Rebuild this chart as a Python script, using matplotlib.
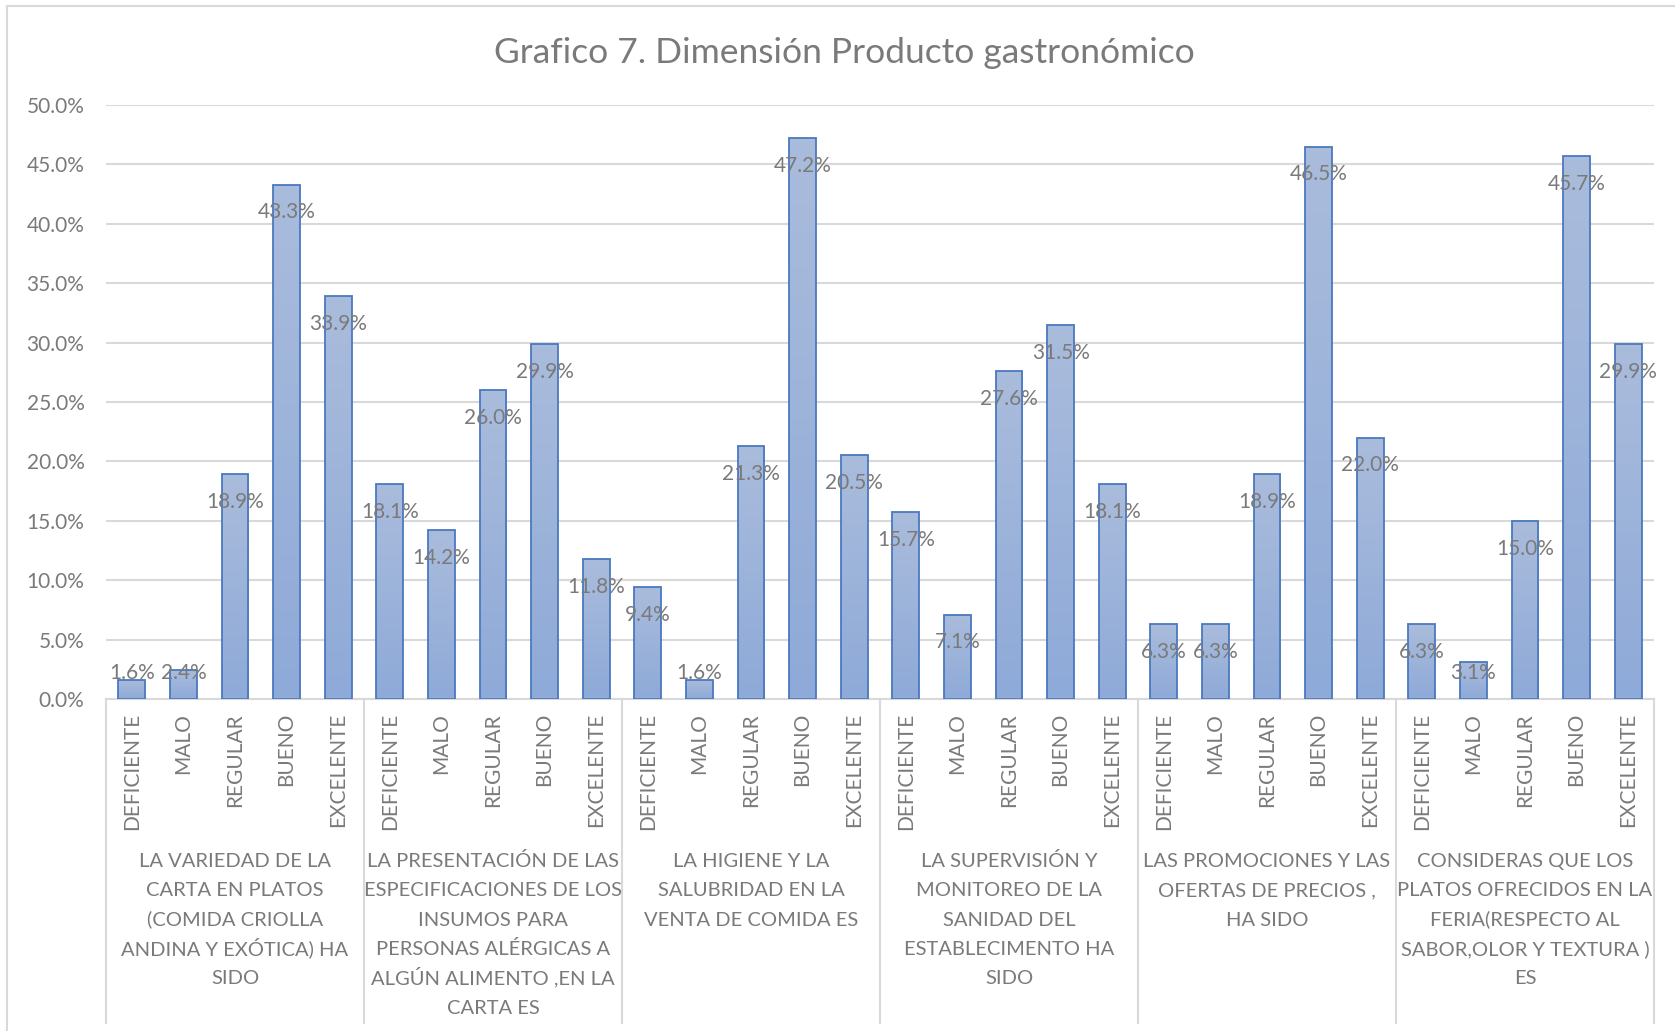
import matplotlib
matplotlib.use('Agg')
import matplotlib.pyplot as plt
import matplotlib as mpl
import numpy as np
from matplotlib.colors import LinearSegmentedColormap
from matplotlib.patches import Rectangle
from matplotlib.ticker import FuncFormatter

mpl.rcParams['font.family'] = ['Lato', 'DejaVu Sans']

# datos del grafico
titulo = 'Grafico 7. Dimensión Producto gastronómico'
niveles = ['DEFICIENTE', 'MALO', 'REGULAR', 'BUENO', 'EXCELENTE']
preguntas = [
    ['LA VARIEDAD DE LA', 'CARTA EN PLATOS', '(COMIDA CRIOLLA', 'ANDINA Y EXÓTICA) HA', 'SIDO'],
    ['LA PRESENTACIÓN DE LAS', 'ESPECIFICACIONES DE LOS', 'INSUMOS PARA', 'PERSONAS ALÉRGICAS A',
     'ALGÚN ALIMENTO ,EN LA', 'CARTA ES'],
    ['LA HIGIENE Y LA', 'SALUBRIDAD EN LA', 'VENTA DE COMIDA ES'],
    ['LA SUPERVISIÓN Y', 'MONITOREO DE LA', 'SANIDAD DEL', 'ESTABLECIMENTO HA', 'SIDO'],
    ['LAS PROMOCIONES Y LAS', 'OFERTAS DE PRECIOS ,', 'HA SIDO'],
    ['CONSIDERAS QUE LOS', 'PLATOS OFRECIDOS EN LA', 'FERIA(RESPECTO AL', 'SABOR,OLOR Y TEXTURA )', 'ES'],
]
variedad = [0.016, 0.024, 0.189, 0.433, 0.339]
presentacion = [0.181, 0.142, 0.260, 0.299, 0.118]
higiene = [0.094, 0.016, 0.213, 0.472, 0.205]
supervision = [0.157, 0.071, 0.276, 0.315, 0.181]
promociones = [0.063, 0.063, 0.189, 0.465, 0.220]
sabor = [0.063, 0.031, 0.150, 0.457, 0.299]

GRIS = '#7a7a7a'
LINEA = '#d9d9d9'
FS = 15

# area de trazado en pixeles de la figura (1675 x 1031)
W, H = 1675, 1031
X0, X1, Y_EJE, Y_TOP = 106, 1654, 699, 105


def pct(v, pos=None):
    return '{:.1f}%'.format(v * 100)


def fig_y_to_axes(py):
    # pixel vertical (desde arriba) -> coordenada y de los ejes
    return (Y_EJE - py) / (Y_EJE - Y_TOP)


def draw():
    valores = variedad + presentacion + higiene + supervision + promociones + sabor
    n = len(valores)
    x = np.arange(n)

    fig = plt.figure(figsize=(W / 100, H / 100), dpi=100)
    ax = fig.add_axes([X0 / W, 1 - Y_EJE / H, (X1 - X0) / W, (Y_EJE - Y_TOP) / H])

    # marco exterior del grafico
    fig.patches.append(Rectangle((7 / W, -0.05), 1.1, 1.05 - 6 / H, transform=fig.transFigure,
                                 fill=False, edgecolor=LINEA, linewidth=1.5))

    ax.set_xlim(-0.5, n - 0.5)
    ax.set_ylim(0, 0.5)
    ax.set_yticks(np.arange(0, 0.51, 0.05))
    ax.yaxis.set_major_formatter(FuncFormatter(pct))
    ax.grid(axis='y', color=LINEA, linewidth=1.5, zorder=0)
    ax.set_axisbelow(True)
    for s in ['top', 'right', 'left']:
        ax.spines[s].set_visible(False)
    ax.spines['bottom'].set_color(LINEA)
    ax.spines['bottom'].set_linewidth(1.5)
    ax.tick_params(axis='y', length=0, pad=15.5, labelsize=FS, labelcolor=GRIS)

    # etiquetas de nivel en vertical
    ax.set_xticks(x)
    ax.set_xticklabels(niveles * len(preguntas), rotation=90, va='top', ha='center')
    ax.tick_params(axis='x', length=0, pad=10, labelsize=FS, labelcolor=GRIS)

    # barras con degradado
    cmap = LinearSegmentedColormap.from_list('azul', ['#8eaad8', '#aabcdc'])
    grad = np.linspace(0, 1, 100).reshape(-1, 1)
    bars = ax.bar(x, valores, width=0.52, facecolor='none', edgecolor='#4a78c0', linewidth=1.3, zorder=3)
    for b in bars:
        im = ax.imshow(grad, extent=[b.get_x(), b.get_x() + b.get_width(), 0, b.get_height()],
                       origin='lower', aspect='auto', cmap=cmap, zorder=2)
        im.set_clip_path(b)
    ax.set_xlim(-0.5, n - 0.5)
    ax.set_ylim(0, 0.5)

    # etiquetas de valor dentro del extremo de la barra
    for xi, v in zip(x, valores):
        y = max(v - 0.0234, 0.0216)
        ax.text(xi, y, pct(v), ha='center', va='center', fontsize=FS, color=GRIS, zorder=5)

    # separadores de grupo y textos de las preguntas
    tr = ax.get_xaxis_transform()
    for k in range(len(preguntas) + 1):
        ax.plot([k * 5 - 0.5, k * 5 - 0.5], [0, fig_y_to_axes(1023)], transform=tr, color=LINEA,
                linewidth=1.5, clip_on=False)
    for k, lineas in enumerate(preguntas):
        for i, txt in enumerate(lineas):
            ax.text(k * 5 + 2, fig_y_to_axes(867 + i * 29.3), txt, transform=tr, ha='center',
                    va='baseline', fontsize=14.5, color=GRIS, clip_on=False)

    fig.text(0.504, 1 - 50 / H, titulo, ha='center', va='center_baseline', fontsize=25.5, color=GRIS)

    fig.savefig('out.png', dpi=100, facecolor='white')


if __name__ == '__main__':
    draw()
